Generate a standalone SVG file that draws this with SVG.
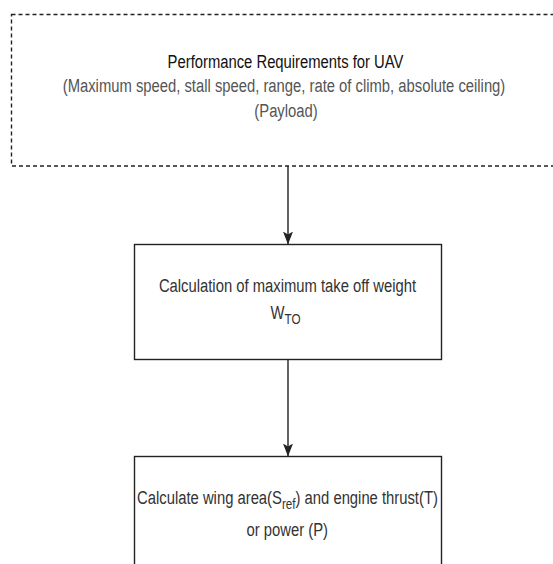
<svg xmlns="http://www.w3.org/2000/svg" width="553" height="564" viewBox="0 0 553 564">
<style>
.box{fill:#ffffff;stroke:#222222;stroke-width:1.4}
.dashed{stroke-dasharray:4 3}
.edge{fill:none;stroke:#222222;stroke-width:1.4}
.t{font-family:"Liberation Sans",Arial,sans-serif;font-size:19px;text-anchor:middle}
.dark{fill:#111111}
.grey{fill:#555555}
.mid{fill:#333333}
</style>
<defs>
<marker id="arr" markerUnits="userSpaceOnUse" viewBox="0 0 13 10" refX="12.5" refY="5" markerWidth="13" markerHeight="10" orient="auto">
<path d="M0,0 L13,5 L0,10 L3,5 Z" fill="#222222"/>
</marker>
</defs>
<rect width="553" height="564" fill="#ffffff"/>
<g id="node-requirements">
<rect class="box dashed" x="11.5" y="14.5" width="560" height="151.5"/>
<text class="t dark" transform="translate(285.5 68) scale(0.78 1)" x="0" y="0">Performance Requirements for UAV</text>
<text class="t grey" transform="translate(284 92) scale(0.78 1)" x="0" y="0">(Maximum speed, stall speed, range, rate of climb, absolute ceiling)</text>
<text class="t grey" transform="translate(286 117) scale(0.78 1)" x="0" y="0">(Payload)</text>
</g>
<g id="node-mtow">
<rect class="box" x="134.5" y="244.5" width="307" height="115"/>
<text class="t mid" transform="translate(287.5 292) scale(0.78 1)" x="0" y="0">Calculation of maximum take off weight</text>
<text class="t mid" transform="translate(285.5 319) scale(0.78 1)" x="0" y="0">W<tspan font-size="15" dy="5">TO</tspan></text>
</g>
<g id="node-wing">
<rect class="box" x="134.5" y="456.5" width="307" height="130"/>
<text class="t mid" transform="translate(287.5 504) scale(0.78 1)" x="0" y="0">Calculate wing area(S<tspan font-size="15" dy="5">ref</tspan><tspan dy="-5">) and engine thrust(T)</tspan></text>
<text class="t mid" transform="translate(287.3 536) scale(0.78 1)" x="0" y="0">or power (P)</text>
</g>
<g id="connectors">
<line class="edge" x1="288" y1="166" x2="288" y2="244" marker-end="url(#arr)"/>
<line class="edge" x1="288" y1="359.5" x2="288" y2="456" marker-end="url(#arr)"/>
</g>
</svg>
